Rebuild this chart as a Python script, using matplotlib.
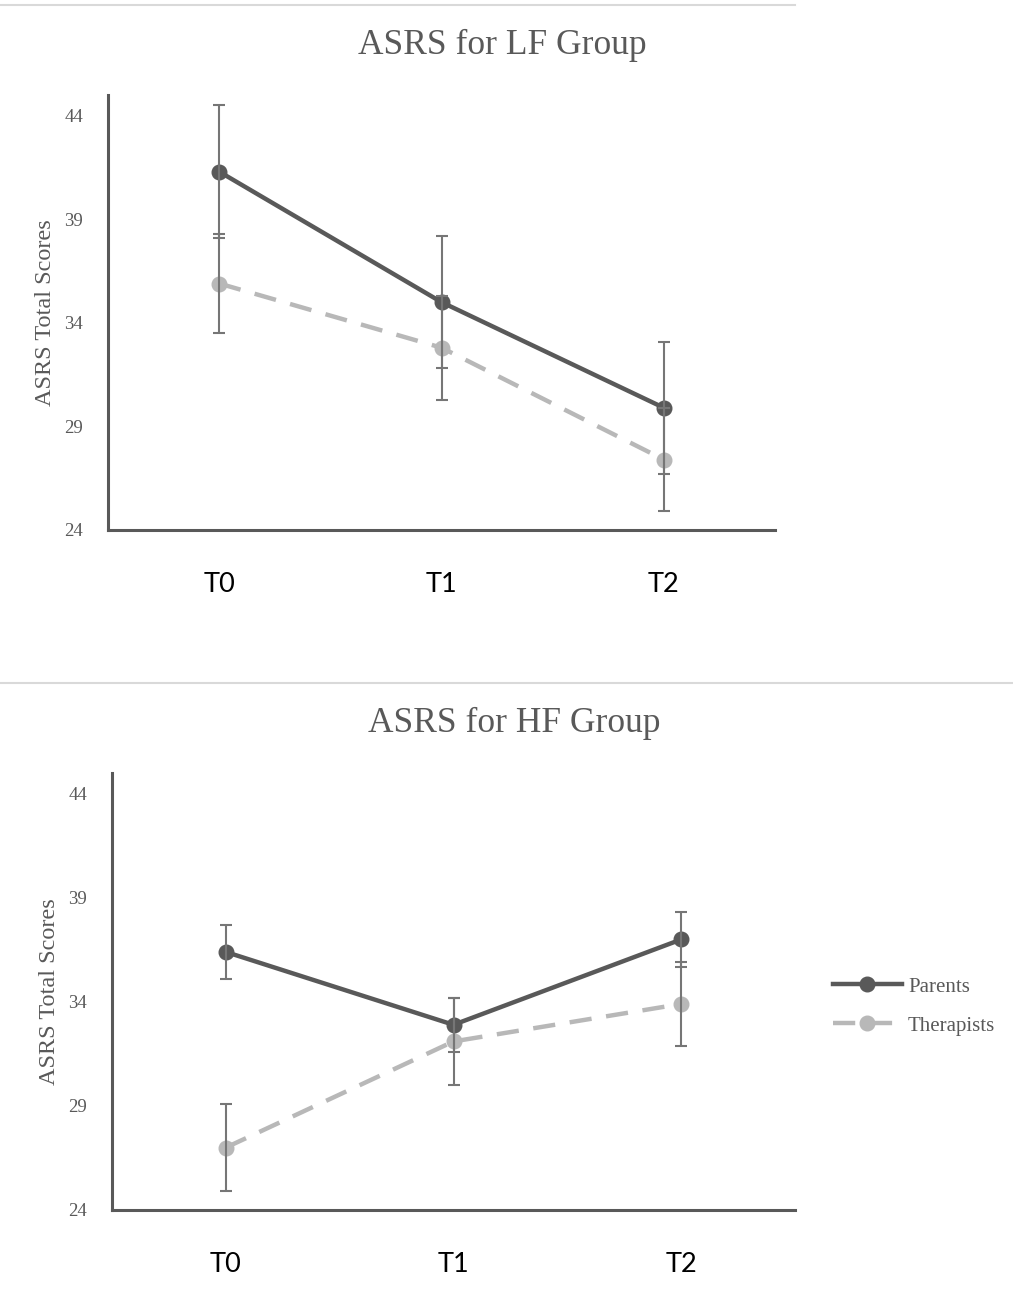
import matplotlib
matplotlib.use('Agg')
import matplotlib.pyplot as plt
from matplotlib import rcParams
from matplotlib.lines import Line2D

rcParams['axes.spines.top'] = False
rcParams['axes.spines.right'] = False

categories = ['T0', 'T1', 'T2']

lf_parents = [41.3, 35.0, 29.9]
lf_parents_err = [3.2, 3.2, 3.2]
lf_therapists = [35.9, 32.8, 27.4]
lf_therapists_err = [2.4, 2.5, 2.5]

hf_parents = [36.4, 32.9, 37.0]
hf_parents_err = [1.3, 1.3, 1.3]
hf_therapists = [27.0, 32.1, 33.9]
hf_therapists_err = [2.1, 2.1, 2.0]

y_ticks = [24, 29, 34, 39, 44]

DARK = '#595959'
LIGHT = '#b8b8b8'
ERR = '#767676'
SERIF = 'Liberation Serif'


def plot_panel(ax, parents, parents_err, therapists, therapists_err):
    x = list(range(len(categories)))
    ax.plot(x, parents, color=DARK, lw=3.2, marker='o', ms=10.5, zorder=3, label='Parents')
    ax.plot(x, therapists, color=LIGHT, lw=3.2, marker='o', ms=10.5, dashes=(5, 3.3),
            zorder=2, label='Therapists')
    ax.errorbar(x, parents, yerr=parents_err, fmt='none', ecolor=ERR, elinewidth=1.5,
                capsize=4, capthick=1.5, zorder=4)
    ax.errorbar(x, therapists, yerr=therapists_err, fmt='none', ecolor=ERR, elinewidth=1.5,
                capsize=4, capthick=1.5, zorder=4)
    ax.set_xlim(-0.5, 2.5)
    ax.set_ylim(24, 45)
    ax.set_yticks(y_ticks)
    ax.set_yticklabels([str(t) for t in y_ticks], fontfamily=SERIF, fontsize=13.5, color=DARK)
    ax.set_xticks(x)
    ax.set_xticklabels(categories, fontfamily='Lato', fontsize=19.5, color='black')
    ax.tick_params(axis='y', length=0, pad=18)
    ax.tick_params(axis='x', length=0, pad=30)
    for side in ['left', 'bottom']:
        ax.spines[side].set_color(DARK)
        ax.spines[side].set_linewidth(2.2)
    ax.set_ylabel('ASRS Total Scores', fontfamily=SERIF, fontsize=17.5, color=DARK, labelpad=6)


W, H = 1013, 1289
fig = plt.figure(figsize=(W / 100, H / 100), dpi=100)

ax1 = fig.add_axes([108 / W, 1 - 530 / H, 667 / W, 435 / H])
plot_panel(ax1, lf_parents, lf_parents_err, lf_therapists, lf_therapists_err)

ax2 = fig.add_axes([112 / W, 1 - 1210 / H, 683 / W, 437 / H])
plot_panel(ax2, hf_parents, hf_parents_err, hf_therapists, hf_therapists_err)

fig.text(502 / W, 1 - 45 / H, 'ASRS for LF Group', fontfamily=SERIF, fontsize=25.5,
         color=DARK, ha='center', va='center')
fig.text(514 / W, 1 - 723 / H, 'ASRS for HF Group', fontfamily=SERIF, fontsize=25.5,
         color=DARK, ha='center', va='center')

# separator lines
fig.add_artist(Line2D([0, 795 / W], [1 - 5 / H, 1 - 5 / H], color='#d9d9d9', lw=1.5))
fig.add_artist(Line2D([0, 1], [1 - 683 / H, 1 - 683 / H], color='#d9d9d9', lw=1.5))

handles, labels = ax2.get_legend_handles_labels()
fig.legend(handles, labels, loc='upper left', bbox_to_anchor=(833 / W, 1 - 977 / H),
           frameon=False, borderpad=0, borderaxespad=0, handlelength=3.3,
           handletextpad=0.3, labelspacing=0.94,
           prop={'family': SERIF, 'size': 15}, labelcolor=DARK)

fig.savefig('out.png', dpi=100)
plt.close()
